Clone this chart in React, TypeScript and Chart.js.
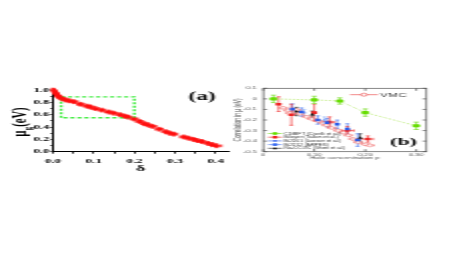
import React, { useEffect, useRef } from 'react';
import { Chart, registerables } from 'chart.js';
Chart.register(...registerables);

const SERIF = "'Liberation Serif', 'DejaVu Serif', serif";
const SANS = "'Liberation Sans', Arial, sans-serif";

// ---------- Panel (a) data ----------
const deltaA = [0.0, 0.002, 0.004, 0.006, 0.008, 0.01, 0.013, 0.016, 0.02, 0.025, 0.032, 0.04, 0.052, 0.068, 0.084, 0.092, 0.104, 0.12, 0.137, 0.149, 0.165, 0.177, 0.185, 0.2, 0.213, 0.225, 0.233, 0.245, 0.261, 0.277, 0.287, 0.297, 0.321, 0.333, 0.345, 0.355, 0.366, 0.381, 0.392, 0.402];
const muA = [1.0, 0.99, 0.97, 0.955, 0.94, 0.92, 0.9, 0.885, 0.87, 0.855, 0.84, 0.825, 0.81, 0.77, 0.74, 0.725, 0.70, 0.675, 0.645, 0.625, 0.60, 0.575, 0.56, 0.53, 0.49, 0.455, 0.435, 0.41, 0.365, 0.325, 0.30, 0.285, 0.24, 0.22, 0.2, 0.18, 0.165, 0.135, 0.115, 0.095];
const muAErrX = [0.004, 0.004, 0.004, 0.004, 0.004, 0.004, 0.004, 0.004, 0.004, 0.004, 0.009, 0.009, 0.009, 0.009, 0.009, 0.009, 0.009, 0.009, 0.009, 0.009, 0.009, 0.009, 0.009, 0.009, 0.009, 0.009, 0.009, 0.009, 0.009, 0.009, 0.009, 0.009, 0.009, 0.009, 0.009, 0.009, 0.009, 0.009, 0.009, 0.012];
const muAErrY = [0.03, 0.03, 0.03, 0.03, 0.03, 0.03, 0.03, 0.03, 0.03, 0.03, 0.03, 0.03, 0.03, 0.03, 0.03, 0.03, 0.03, 0.03, 0.03, 0.03, 0.03, 0.03, 0.03, 0.03, 0.03, 0.03, 0.03, 0.03, 0.03, 0.03, 0.03, 0.03, 0.03, 0.03, 0.03, 0.03, 0.03, 0.03, 0.03, 0.03];
const boxAX = [0.02, 0.02, 0.2, 0.2, 0.02];
const boxAY = [0.55, 0.89, 0.89, 0.55, 0.55];
const xTickValsA = [0, 0.1, 0.2, 0.3, 0.4];
const xTickLabelsA = ['0.0', '0.1', '0.2', '0.3', '0.4'];
const yTickValsA = [0, 0.2, 0.4, 0.6, 0.8, 1.0];
const yTickLabelsA = ['0.0', '0.2', '0.4', '0.6', '0.8', '1.0'];
const panelLabelA = '(a)';

// ---------- Panel (b) data ----------
const greenX = [0.02, 0.10, 0.15, 0.20, 0.30];
const greenY = [0.0, -0.01, -0.02, -0.13, -0.255];
const greenErrY = [0.035, 0.035, 0.03, 0.035, 0.035];
const greenErrX = [0.006, 0.006, 0.006, 0.006, 0.006];

const vmcX = [0.039, 0.049, 0.052, 0.065, 0.072, 0.085, 0.095, 0.108, 0.118, 0.124, 0.134, 0.147, 0.157, 0.167, 0.176, 0.186, 0.2, 0.209];
const vmcY = [-0.085, -0.11, -0.135, -0.105, -0.14, -0.17, -0.19, -0.21, -0.23, -0.25, -0.275, -0.3, -0.32, -0.345, -0.38, -0.41, -0.43, -0.44];
const vmcErrX = [0.008, 0.008, 0.008, 0.008, 0.008, 0.008, 0.008, 0.008, 0.008, 0.008, 0.008, 0.008, 0.008, 0.008, 0.008, 0.008, 0.008, 0.008];

const redX = [0.03, 0.055, 0.10, 0.13, 0.165, 0.205];
const redY = [-0.05, -0.15, -0.13, -0.22, -0.3, -0.38];
const redErrY = [0.07, 0.1, 0.08, 0.05, 0.04, 0.03];
const redErrX = [0.004, 0.004, 0.004, 0.01, 0.012, 0.01];

const blueX = [0.057, 0.075, 0.107, 0.125, 0.145, 0.165, 0.185];
const blueY = [-0.097, -0.125, -0.2, -0.225, -0.24, -0.285, -0.39];
const blueErrY = [0.05, 0.04, 0.04, 0.04, 0.04, 0.05, 0.06];

const lblueX = [0.08, 0.12];
const lblueY = [-0.13, -0.2];
const lblueErrY = [0.03, 0.03];

const blackX = [0.065, 0.096, 0.19];
const blackY = [-0.12, -0.15, -0.37];
const blackErrY = [0.04, 0.035, 0.04];

const xTickValsB = [0, 0.1, 0.2, 0.3];
const xTickLabelsB = ['0', '0.10', '0.20', '0.30'];
const yTickValsB = [0.1, 0, -0.1, -0.2, -0.3, -0.4, -0.5];
const yTickLabelsB = ['0.1', '0', '-0.1', '-0.2', '-0.3', '-0.4', '-0.5'];
const legendB = ['CDMFT (Civelli et al.)', 'Bilayer (Tallon et al.)', 'Bi2201 (Loeser et al.)', 'Bi2212 (ARPES)', 'Na-CCOC (Shen et al.)'];
const panelLabelB = '(b)';
const vmcLabel = 'VMC';
const xTitleB = 'Hole concentration p';
const yTitleB = 'Correlation in μ (eV)';

const pts = (xs: number[], ys: number[]) => xs.map((x, i) => ({ x, y: ys[i] }));
const labelFor = (vals: number[], labels: string[]) => (v: any) => {
  const i = vals.findIndex((t) => Math.abs(t - Number(v)) < 1e-6);
  return i >= 0 ? labels[i] : '';
};

const errorBars = {
  id: 'errorBars',
  beforeDatasetsDraw(chart: any) {
    const ctx = chart.ctx;
    const xs = chart.scales.x;
    const ys = chart.scales.y;
    chart.data.datasets.forEach((ds: any) => {
      if (!ds.errX && !ds.errY) return;
      ctx.save();
      ctx.strokeStyle = ds.errColor || ds.borderColor;
      ctx.lineWidth = ds.errWidth || 0.8;
      const capX = ds.capX ?? 1;
      const capY = ds.capY ?? 1;
      ds.data.forEach((p: any, j: number) => {
        const px = xs.getPixelForValue(p.x);
        const py = ys.getPixelForValue(p.y);
        ctx.beginPath();
        if (ds.errX && ds.errX[j]) {
          const l = xs.getPixelForValue(p.x - ds.errX[j]);
          const r = xs.getPixelForValue(p.x + ds.errX[j]);
          ctx.moveTo(l, py); ctx.lineTo(r, py);
          ctx.moveTo(l, py - capY); ctx.lineTo(l, py + capY);
          ctx.moveTo(r, py - capY); ctx.lineTo(r, py + capY);
        }
        if (ds.errY && ds.errY[j]) {
          const t = ys.getPixelForValue(p.y + ds.errY[j]);
          const b = ys.getPixelForValue(p.y - ds.errY[j]);
          ctx.moveTo(px, t); ctx.lineTo(px, b);
          ctx.moveTo(px - capX, t); ctx.lineTo(px + capX, t);
          ctx.moveTo(px - capX, b); ctx.lineTo(px + capX, b);
        }
        ctx.stroke();
      });
      ctx.restore();
    });
  },
};

const textA = {
  id: 'textA',
  afterDraw(chart: any) {
    const ctx = chart.ctx;
    ctx.save();
    ctx.fillStyle = '#000';
    ctx.font = `bold 11.5px ${SERIF}`;
    ctx.textAlign = 'center';
    ctx.textBaseline = 'middle';
    ctx.fillText(panelLabelA, 101, 37);
    // y title  μg(eV)
    ctx.translate(10, 62);
    ctx.rotate(-Math.PI / 2);
    ctx.textAlign = 'left';
    ctx.textBaseline = 'alphabetic';
    const f1 = `bold 10.5px ${SERIF}`;
    const f2 = `bold 6.5px ${SERIF}`;
    ctx.font = f1; const w1 = ctx.measureText('μ').width; const w3 = ctx.measureText('(eV)').width;
    ctx.font = f2; const w2 = ctx.measureText('g').width;
    let x0 = -(w1 + w2 + w3 + 0.6) / 2;
    ctx.font = f1; ctx.fillText('μ', x0, 3.2); x0 += w1 + 0.3;
    ctx.font = f2; ctx.fillText('g', x0, 5.6); x0 += w2 + 0.3;
    ctx.font = f1; ctx.fillText('(eV)', x0, 3.2);
    ctx.restore();
  },
};

const decorB = {
  id: 'decorB',
  afterDraw(chart: any) {
    const ctx = chart.ctx;
    const a = chart.chartArea;
    const xs = chart.scales.x;
    const ys = chart.scales.y;
    ctx.save();
    // box
    ctx.strokeStyle = '#555';
    ctx.lineWidth = 0.7;
    ctx.strokeRect(a.left, a.top, a.right - a.left, a.bottom - a.top);
    ctx.beginPath();
    yTickValsB.forEach((v) => {
      const py = ys.getPixelForValue(v);
      ctx.moveTo(a.left, py); ctx.lineTo(a.left + 2, py);
      ctx.moveTo(a.right, py); ctx.lineTo(a.right - 2, py);
    });
    xTickValsB.forEach((v) => {
      const px = xs.getPixelForValue(v);
      ctx.moveTo(px, a.bottom); ctx.lineTo(px, a.bottom - 2.5);
      ctx.moveTo(px, a.top); ctx.lineTo(px, a.top + 2.5);
    });
    ctx.stroke();
    // VMC legend
    ctx.strokeStyle = '#ee6a6a';
    ctx.lineWidth = 0.8;
    ctx.beginPath(); ctx.moveTo(59.5, 34.7); ctx.lineTo(73.5, 34.7); ctx.stroke();
    ctx.fillStyle = '#fff';
    ctx.beginPath(); ctx.arc(66.5, 34.7, 1.5, 0, Math.PI * 2); ctx.fill(); ctx.stroke();
    ctx.fillStyle = '#444';
    ctx.font = `6px ${SANS}`;
    ctx.textAlign = 'left'; ctx.textBaseline = 'middle';
    ctx.fillText(vmcLabel, 74.5, 35);
    // (b)
    ctx.fillStyle = '#000';
    ctx.font = `bold 11px ${SERIF}`;
    ctx.textAlign = 'center';
    ctx.fillText(panelLabelB, 86.25, 81.7);
    // lower-left legend
    const rows = [73.5, 77.2, 80.9, 84.6, 88.3];
    const cols = ['#66dd00', '#ee2222', '#2a5be8', '#3a6cf0', '#111'];
    rows.forEach((ry, i) => {
      ctx.strokeStyle = cols[i];
      ctx.lineWidth = 0.6;
      ctx.beginPath(); ctx.moveTo(18.5, ry); ctx.lineTo(25.5, ry); ctx.stroke();
      ctx.fillStyle = cols[i];
      if (i === 4) {
        ctx.beginPath(); ctx.moveTo(22, ry - 1.4); ctx.lineTo(23.2, ry + 1); ctx.lineTo(20.8, ry + 1); ctx.closePath(); ctx.fill();
      } else if (i === 2) {
        ctx.fillRect(21.3, ry - 0.8, 1.4, 1.6);
      } else {
        ctx.fillRect(20.8, ry - 1.3, 2.4, 2.6);
      }
      ctx.fillStyle = '#333';
      ctx.font = `3px ${SANS}`;
      ctx.textAlign = 'left';
      ctx.fillText(legendB[i], 26.5, ry + 0.2);
    });
    ctx.restore();
  },
};

function PanelA() {
  const ref = useRef<HTMLCanvasElement>(null);
  useEffect(() => {
    const chart = new Chart(ref.current as HTMLCanvasElement, {
      type: 'scatter',
      data: {
        datasets: [
          {
            label: 'mu',
            data: pts(deltaA, muA),
            pointStyle: 'rect',
            pointRadius: 2,
            backgroundColor: '#ff1010',
            borderColor: '#ff1010',
            borderWidth: 0,
            errX: muAErrX,
            errY: muAErrY,
            errColor: '#ff3030',
            errWidth: 0.9,
            capX: 1,
            capY: 1.4,
          } as any,
          {
            label: 'box',
            data: pts(boxAX, boxAY),
            showLine: true,
            borderColor: '#3cec3c',
            borderWidth: 1.4,
            borderDash: [2, 1.5],
            pointRadius: 0,
            fill: false,
          } as any,
        ],
      },
      options: {
        animation: false,
        responsive: false,
        devicePixelRatio: 1,
        events: [],
        layout: { padding: { left: 0, right: 2.5, top: 28.2, bottom: 0 } },
        plugins: { legend: { display: false }, tooltip: { enabled: false } },
        scales: {
          x: {
            type: 'linear',
            min: 0,
            max: 0.43,
            afterFit: (s: any) => { s.height = 38.3; },
            border: { display: true, color: '#000', width: 1 },
            grid: { drawOnChartArea: false, drawTicks: true, tickLength: 2, color: '#000', lineWidth: 0.8 },
            ticks: {
              stepSize: 0.05,
              includeBounds: false,
              autoSkip: false,
              maxRotation: 0,
              padding: 4,
              color: '#000',
              font: { family: SERIF, size: 6.5, weight: 'bold' },
              callback: labelFor(xTickValsA, xTickLabelsA),
            },
            title: { display: true, text: 'δ', color: '#000', font: { family: SERIF, size: 9, weight: 'bold' }, padding: { top: 0, bottom: 16 } },
          },
          y: {
            type: 'linear',
            min: 0,
            max: 1.03,
            afterFit: (s: any) => { s.width = 26.5; },
            border: { display: true, color: '#000', width: 1 },
            grid: { drawOnChartArea: false, drawTicks: true, tickLength: 1.2, color: '#000', lineWidth: 0.8 },
            ticks: {
              stepSize: 0.1,
              includeBounds: false,
              autoSkip: false,
              padding: 0.5,
              color: '#000',
              font: { family: SERIF, size: 6.5, weight: 'bold' },
              callback: labelFor(yTickValsA, yTickLabelsA),
            },
          },
        },
      } as any,
      plugins: [errorBars, textA],
    });
    return () => chart.destroy();
  }, []);
  return (
    <canvas
      ref={ref}
      width={118}
      height={130}
      style={{ position: 'absolute', left: 0, top: 60, width: 236, height: 130, display: 'block' }}
    />
  );
}

function PanelB() {
  const ref = useRef<HTMLCanvasElement>(null);
  useEffect(() => {
    const chart = new Chart(ref.current as HTMLCanvasElement, {
      type: 'scatter',
      data: {
        datasets: [
          {
            label: 'black',
            data: pts(blackX, blackY),
            pointStyle: 'triangle',
            pointRadius: 1.6,
            backgroundColor: '#111',
            borderColor: '#111',
            borderWidth: 0,
            errY: blackErrY,
            errColor: '#111',
            errWidth: 0.6,
            capX: 1,
          } as any,
          {
            label: 'blue',
            data: pts(blueX, blueY),
            pointStyle: 'rect',
            pointRadius: 1.8,
            backgroundColor: '#2a5be8',
            borderColor: '#2a5be8',
            borderWidth: 0,
            errY: blueErrY,
            errColor: '#3a6cf0',
            errWidth: 0.6,
            capX: 1,
          } as any,
          {
            label: 'lblue',
            data: pts(lblueX, lblueY),
            pointStyle: 'rect',
            pointRadius: 1.2,
            backgroundColor: '#7aa0f5',
            borderColor: '#7aa0f5',
            borderWidth: 0,
            errY: lblueErrY,
            errColor: '#8ab0f8',
            errWidth: 0.6,
            capX: 1,
          } as any,
          {
            label: 'red',
            data: pts(redX, redY),
            pointStyle: 'rect',
            pointRadius: 1.8,
            backgroundColor: '#ee2222',
            borderColor: '#ee2222',
            borderWidth: 0,
            errY: redErrY,
            errX: redErrX,
            errColor: '#ee2222',
            errWidth: 0.6,
            capX: 1,
            capY: 1.2,
          } as any,
          {
            label: 'vmc',
            data: pts(vmcX, vmcY),
            showLine: true,
            pointStyle: 'circle',
            pointRadius: 1.4,
            backgroundColor: 'rgba(255,255,255,0.85)',
            borderColor: '#f07070',
            borderWidth: 0.6,
            errX: vmcErrX,
            errColor: '#f07070',
            errWidth: 0.5,
            capY: 1,
          } as any,
          {
            label: 'green',
            data: pts(greenX, greenY),
            showLine: true,
            borderDash: [1, 1],
            borderColor: '#b5e86a',
            borderWidth: 0.8,
            pointStyle: 'rect',
            pointRadius: 2.2,
            pointBackgroundColor: '#66dd00',
            pointBorderColor: '#66dd00',
            pointBorderWidth: 0,
            errY: greenErrY,
            errX: greenErrX,
            errColor: '#77dd22',
            errWidth: 0.7,
            capX: 1.3,
            capY: 1,
          } as any,
        ],
      },
      options: {
        animation: false,
        responsive: false,
        devicePixelRatio: 1,
        events: [],
        layout: { padding: { left: 0, right: 22.25, top: 28.3, bottom: 0 } },
        plugins: { legend: { display: false }, tooltip: { enabled: false } },
        scales: {
          x: {
            type: 'linear',
            min: 0,
            max: 0.32,
            afterFit: (s: any) => { s.height = 38.3; },
            border: { display: false },
            grid: { display: false, drawTicks: false },
            ticks: {
              stepSize: 0.1,
              includeBounds: false,
              autoSkip: false,
              maxRotation: 0,
              padding: 1,
              color: '#555',
              font: { family: SANS, size: 3.8 },
              callback: labelFor(xTickValsB, xTickLabelsB),
            },
            title: { display: true, text: xTitleB, color: '#555', font: { family: SANS, size: 3.8 }, padding: { top: 0, bottom: 29.4 } },
          },
          y: {
            type: 'linear',
            min: -0.5,
            max: 0.1,
            afterFit: (s: any) => { s.width = 16.15; },
            border: { display: false },
            grid: { display: false, drawTicks: false },
            ticks: {
              stepSize: 0.1,
              includeBounds: false,
              autoSkip: false,
              padding: 3.4,
              color: '#555',
              font: { family: SANS, size: 3.8 },
              callback: labelFor(yTickValsB, yTickLabelsB),
            },
            title: { display: true, text: yTitleB, color: '#555', font: { family: SANS, size: 4.8 }, padding: { top: 1, bottom: 0 } },
          },
        },
      } as any,
      plugins: [errorBars, decorB],
    });
    return () => chart.destroy();
  }, []);
  return (
    <canvas
      ref={ref}
      width={120}
      height={130}
      style={{ position: 'absolute', left: 231, top: 60, width: 240, height: 130, display: 'block' }}
    />
  );
}

export default function App() {
  return (
    <div style={{ position: 'fixed', left: 0, top: 0, width: 471, height: 277, background: '#fff', overflow: 'hidden' }}>
      <PanelA />
      <PanelB />
    </div>
  );
}
